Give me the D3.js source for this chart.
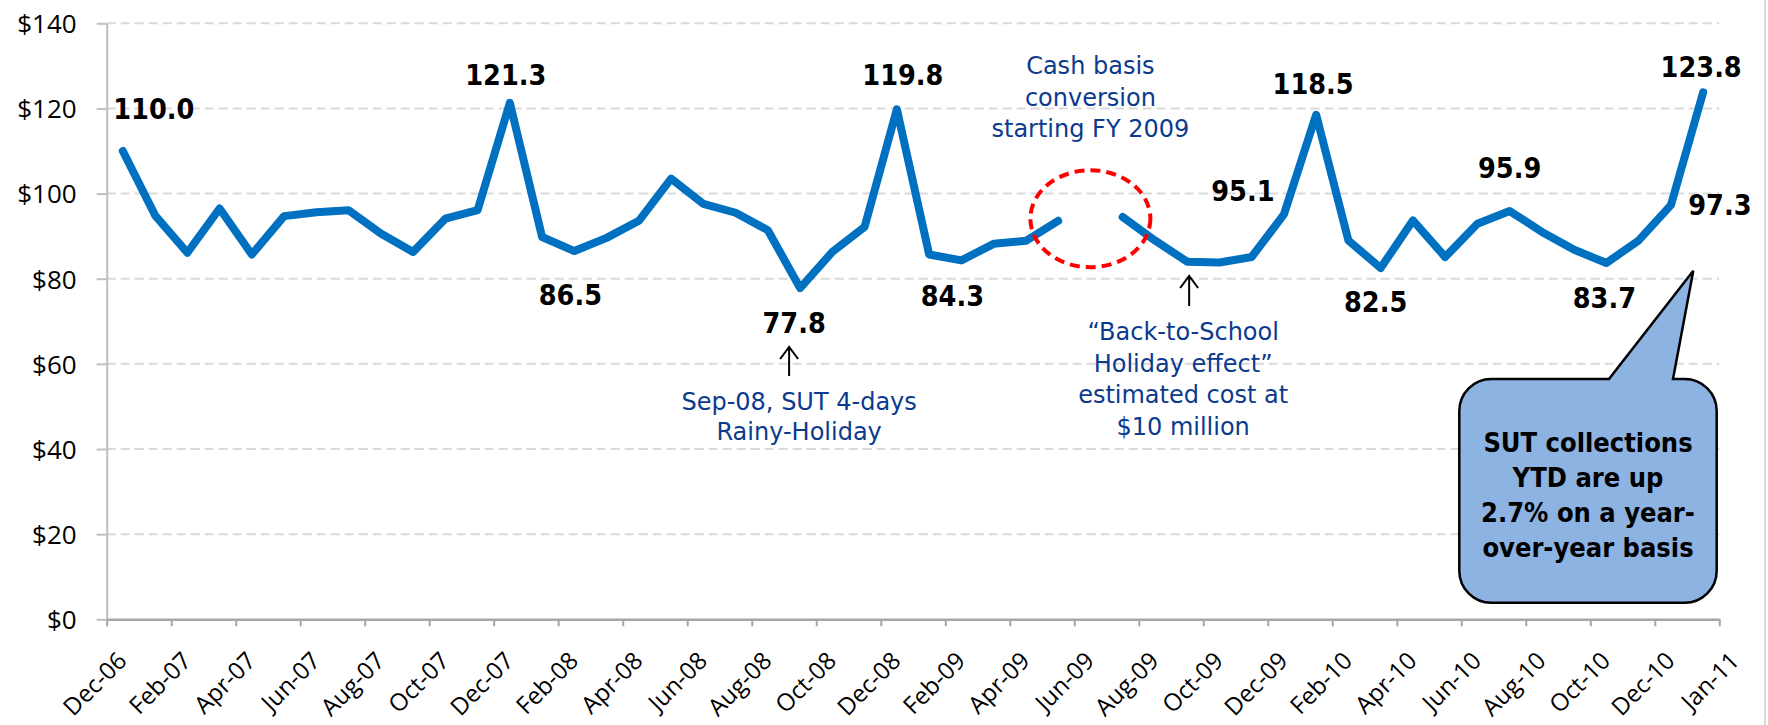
<!DOCTYPE html>
<html>
<head>
  <meta charset="utf-8">
  <title>SUT collections</title>
  <script src="https://d3js.org/d3.v7.min.js"></script>
  <style>
    body { margin: 0; background: #fff; }
    .bold { font-family: "DejaVu Sans Condensed", "DejaVu Sans"; font-stretch: condensed; font-weight: bold; }
    .note { font-family: "DejaVu Sans"; fill: #0b3a8e; }
  </style>
</head>
<body>
<script>
  // months on the category axis (one point per month)
  var months = ["Dec-06","Jan-07","Feb-07","Mar-07","Apr-07","May-07","Jun-07","Jul-07","Aug-07","Sep-07","Oct-07","Nov-07",
    "Dec-07","Jan-08","Feb-08","Mar-08","Apr-08","May-08","Jun-08","Jul-08","Aug-08","Sep-08","Oct-08","Nov-08",
    "Dec-08","Jan-09","Feb-09","Mar-09","Apr-09","May-09","Jun-09","Jul-09","Aug-09","Sep-09","Oct-09","Nov-09",
    "Dec-09","Jan-10","Feb-10","Mar-10","Apr-10","May-10","Jun-10","Jul-10","Aug-10","Sep-10","Oct-10","Nov-10",
    "Dec-10","Jan-11"];
  // SUT collections, $ millions (Jun-09 missing: cash basis conversion)
  var collections = [110.0, 94.9, 86.1, 96.5, 85.7, 94.7, 95.6, 96.1, 90.6, 86.3, 94.1, 96.1,
    121.3, 89.8, 86.5, 89.6, 93.6, 103.5, 97.6, 95.5, 91.4, 77.8, 86.3, 92.2,
    119.8, 85.7, 84.3, 88.2, 88.9, 93.6, null, 94.5, 89.0, 84.0, 83.8, 85.1,
    95.1, 118.5, 89.0, 82.5, 93.7, 85.1, 92.9, 95.9, 91.0, 86.8, 83.7, 89.0,
    97.3, 123.8];
  var tickLabels = ["Dec-06","Feb-07","Apr-07","Jun-07","Aug-07","Oct-07","Dec-07","Feb-08","Apr-08","Jun-08",
    "Aug-08","Oct-08","Dec-08","Feb-09","Apr-09","Jun-09","Aug-09","Oct-09","Dec-09","Feb-10","Apr-10",
    "Jun-10","Aug-10","Oct-10","Dec-10","Jan-11"];
  var yTicks = [0, 20, 40, 60, 80, 100, 120, 140];
  // months that carry a value label
  var labelled = ["Dec-06","Dec-07","Feb-08","Sep-08","Dec-08","Feb-09","Dec-09","Jan-10","Mar-10","Jul-10","Oct-10","Dec-10","Jan-11"];

  var width = 1768, height = 725;
  var plotL = 106.7, plotR = 1719.3, plotT = 23.3, plotB = 619.3;

  var svg = d3.select("body").append("svg").attr("width", width).attr("height", height);

  var x = d3.scaleLinear().domain([0, months.length]).range([plotL, plotR]);
  var y = d3.scaleLinear().domain([0, 140]).range([plotB, plotT]);
  var cx = i => x(i + 0.5);

  // right border of chart area
  svg.append("line").attr("x1", 1765).attr("x2", 1765).attr("y1", 0).attr("y2", height)
    .attr("stroke", "#d9d9d9").attr("stroke-width", 2);

  // gridlines
  svg.append("g").selectAll("line").data(yTicks.filter(d => d > 0)).enter().append("line")
    .attr("x1", plotL).attr("x2", plotR)
    .attr("y1", d => y(d)).attr("y2", d => y(d))
    .attr("stroke", "#d9d9d9").attr("stroke-width", 2).attr("stroke-dasharray", "9,5");

  // y axis
  var yAxis = svg.append("g").attr("transform", "translate(" + plotL + ",0)")
    .call(d3.axisLeft(y).tickValues(yTicks).tickSize(10).tickSizeOuter(0).tickFormat(d => "$" + d));
  yAxis.select(".domain").attr("stroke", "#bfbfbf").attr("stroke-width", 2);
  yAxis.selectAll(".tick line").attr("stroke", "#bfbfbf").attr("stroke-width", 2);
  yAxis.selectAll(".tick text").attr("x", -30).attr("dy", "0.36em")
    .style("font-family", "'Open Sans'").style("font-size", "26px").attr("fill", "#000");

  // x axis
  var xAxis = svg.append("g").attr("transform", "translate(0," + plotB + ")")
    .call(d3.axisBottom(x).tickValues(d3.range(0, months.length + 1, 2)).tickSize(7).tickSizeOuter(0)
      .tickFormat((d, i) => tickLabels[i]));
  xAxis.select(".domain").attr("stroke", "#a6a6a6").attr("stroke-width", 2.5);
  xAxis.selectAll(".tick line").attr("stroke", "#a6a6a6").attr("stroke-width", 2);
  xAxis.selectAll(".tick text")
    .attr("x", 0).attr("y", 0).attr("dy", 0)
    .attr("transform", "translate(21,43) rotate(-45)")
    .attr("text-anchor", "end")
    .style("font-family", "'Open Sans'").style("font-size", "24px").attr("fill", "#000");

  // line
  var series = collections.map((v, i) => ({ i: i, v: v }));
  var line = d3.line().defined(d => d.v != null).x(d => cx(d.i)).y(d => y(d.v));
  svg.append("path").datum(series).attr("d", line)
    .attr("fill", "none").attr("stroke", "#0070c0").attr("stroke-width", 8)
    .attr("stroke-linejoin", "round").attr("stroke-linecap", "round");

  // value labels
  var offs = { "Dec-06": [31, -32], "Dec-07": [-4, -18], "Feb-08": [-4, 54], "Sep-08": [-6, 45], "Dec-08": [6, -24],
    "Feb-09": [-9, 46], "Dec-09": [-41, -13], "Jan-10": [-3, -21], "Mar-10": [-5, 44], "Jul-10": [0, -33],
    "Oct-10": [-2, 45], "Dec-10": [49, 10], "Jan-11": [-2, -15] };
  svg.append("g").selectAll("text").data(labelled).enter().append("text")
    .attr("class", "bold")
    .attr("x", m => cx(months.indexOf(m)) + offs[m][0])
    .attr("y", m => y(collections[months.indexOf(m)]) + offs[m][1])
    .attr("text-anchor", "middle").style("font-size", "28.5px").attr("fill", "#000")
    .text(m => collections[months.indexOf(m)].toFixed(1));

  // cash basis marker
  var gap = months.indexOf("Jun-09");
  svg.append("ellipse").attr("cx", cx(gap)).attr("cy", y(94.1)).attr("rx", 60).attr("ry", 48.5)
    .attr("fill", "none").attr("stroke", "#ff0000").attr("stroke-width", 4).attr("stroke-dasharray", "10,6");

  function note(lines, xc, y0, step) {
    var t = svg.append("text").attr("class", "note").attr("text-anchor", "middle").style("font-size", "24px");
    lines.forEach((s, k) => t.append("tspan").attr("x", xc).attr("y", y0 + k * step).text(s));
  }
  function arrow(xa, y1, y2) {
    svg.append("path").attr("d", "M" + xa + "," + y2 + "V" + y1 + "M" + (xa - 9) + "," + (y1 + 12) + "L" + xa + "," + y1 + "L" + (xa + 9) + "," + (y1 + 12))
      .attr("fill", "none").attr("stroke", "#000").attr("stroke-width", 2);
  }
  note(["Cash basis", "conversion", "starting FY 2009"], cx(gap), 74, 31.7);
  var sep = months.indexOf("Sep-08");
  note(["Sep-08, SUT 4-days", "Rainy-Holiday"], cx(sep) - 1, 410, 30);
  arrow(cx(sep) - 11, 347, 376);
  var bts = months.indexOf("Sep-09");
  note(["\u201cBack-to-School", "Holiday effect\u201d", "estimated cost at", "$10 million"], cx(bts) - 4, 340, 31.7);
  arrow(cx(bts) + 2, 276, 306);

  // callout box
  var bx0 = 1459.3, bx1 = 1716.7, by0 = 379, by1 = 602.7, r = 32;
  var p = "M" + (bx0 + r) + "," + by0 + "H1609L1693.3,270.7L1673," + by0 + "H" + (bx1 - r) +
    "A" + r + "," + r + " 0 0 1 " + bx1 + "," + (by0 + r) + "V" + (by1 - r) +
    "A" + r + "," + r + " 0 0 1 " + (bx1 - r) + "," + by1 + "H" + (bx0 + r) +
    "A" + r + "," + r + " 0 0 1 " + bx0 + "," + (by1 - r) + "V" + (by0 + r) +
    "A" + r + "," + r + " 0 0 1 " + (bx0 + r) + "," + by0 + "Z";
  svg.append("path").attr("d", p).attr("fill", "#8db3e2").attr("stroke", "#000").attr("stroke-width", 2.5);
  var ct = svg.append("text").attr("class", "bold").attr("text-anchor", "middle").style("font-size", "27px").attr("fill", "#000");
  ["SUT collections", "YTD are up", "2.7% on a year-", "over-year basis"].forEach((s, k) =>
    ct.append("tspan").attr("x", (bx0 + bx1) / 2).attr("y", 451.7 + k * 35).text(s));
</script>
</body>
</html>
